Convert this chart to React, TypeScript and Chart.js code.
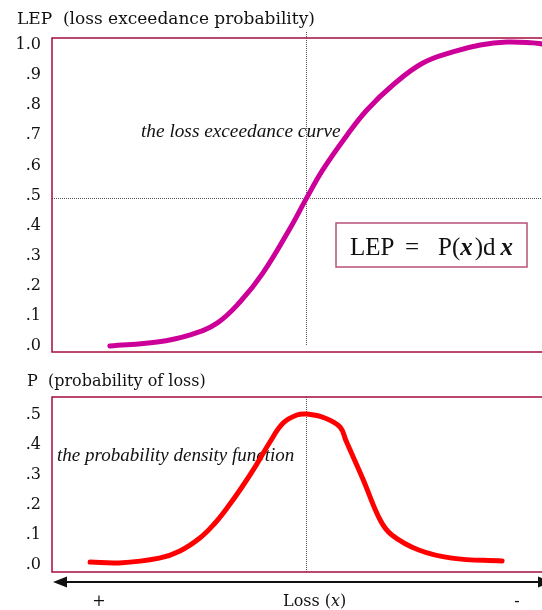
import React, { useEffect, useRef } from 'react';
import { Chart, registerables } from 'chart.js';

Chart.register(...registerables);

// ---------- data ----------
const LEP_X = [11.4, 20.7, 27.2, 32.5, 37.0, 41.5, 46.9, 50.0, 53.3, 58.1, 62.0, 67.1, 73.0, 78.9, 84.3, 89.6, 94.7, 96.5];
const LEP_Y = [0.010, 0.023, 0.047, 0.086, 0.156, 0.252, 0.402, 0.498, 0.595, 0.711, 0.794, 0.877, 0.950, 0.987, 1.010, 1.020, 1.017, 1.013];

const PDF_X = [7.5, 13.2, 21.1, 25.2, 29.1, 32.1, 34.6, 37.4, 40.2, 42.9, 45.5, 48.2, 50.2, 53.7, 56.7, 57.9, 61.2, 64.6, 66.9, 72.2, 78.7, 88.6];
const PDF_Y = [0.010, 0.007, 0.023, 0.047, 0.090, 0.140, 0.193, 0.260, 0.333, 0.410, 0.473, 0.500, 0.503, 0.490, 0.460, 0.413, 0.287, 0.150, 0.100, 0.050, 0.023, 0.013];

const LEP_TICKS = [0, 0.1, 0.2, 0.3, 0.4, 0.5, 0.6, 0.7, 0.8, 0.9, 1.0];
const PDF_TICKS = [0, 0.1, 0.2, 0.3, 0.4, 0.5];

const MEAN_X = 50;
const HALF_LEP = 0.5;

const LEP_TITLE = 'LEP  (loss exceedance probability)';
const PDF_TITLE = 'P  (probability of loss)';
const LEP_CURVE_LABEL = 'the loss exceedance curve';
const PDF_CURVE_LABEL = 'the probability density function';
const X_AXIS_LABEL = ['Loss (', 'x', ')'];
const X_LEFT_SIGN = '+';
const X_RIGHT_SIGN = '-';
const EQ_PARTS = ['LEP', '=', 'P(', 'x', ')d', 'x'];

// ---------- styles ----------
const SERIF = '"DejaVu Serif", serif';
const TIMES = '"Liberation Serif", "Times New Roman", serif';
const FRAME = '#a50d3c';
const TEXT = '#111111';

const fmt = (v: number) => (v >= 1 ? v.toFixed(1) : v.toFixed(1).replace(/^0/, ''));

function yScale(min: number, max: number, ticks: number[], labelOffset: number) {
  return {
    min,
    max,
    afterFit: (s: any) => {
      s.width = 52;
    },
    afterBuildTicks: (s: any) => {
      s.ticks = ticks.map((v) => ({ value: v }));
    },
    ticks: {
      callback: (v: any) => fmt(Number(v)),
      font: { family: SERIF, size: 16 },
      color: TEXT,
      padding: 11,
      labelOffset,
    },
    grid: { display: false, drawTicks: false },
    border: { display: false },
  };
}

function dotted(ctx: CanvasRenderingContext2D) {
  ctx.strokeStyle = '#555';
  ctx.lineWidth = 1;
  ctx.setLineDash([1, 1]);
}

function drawFrame(chart: any) {
  const { ctx, chartArea: a } = chart;
  ctx.save();
  ctx.strokeStyle = FRAME;
  ctx.lineWidth = 1.5;
  ctx.setLineDash([]);
  ctx.strokeRect(a.left, a.top, a.right - a.left, a.bottom - a.top);
  ctx.restore();
}

const topPlugin = {
  id: 'topDecor',
  beforeDatasetsDraw(chart: any) {
    const { ctx, chartArea: a, scales } = chart;
    const x = Math.round(scales.x.getPixelForValue(MEAN_X)) + 0.5;
    const y = Math.round(scales.y.getPixelForValue(HALF_LEP)) + 0.5;
    ctx.save();
    dotted(ctx);
    ctx.beginPath();
    ctx.moveTo(x, a.top - 6);
    ctx.lineTo(x, a.bottom - 6);
    ctx.moveTo(a.left, y);
    ctx.lineTo(a.right, y);
    ctx.stroke();
    ctx.setLineDash([]);
    ctx.fillStyle = TEXT;
    ctx.textBaseline = 'alphabetic';
    ctx.textAlign = 'left';
    ctx.font = `17px ${SERIF}`;
    ctx.fillText(LEP_TITLE, 17, 24);
    ctx.font = `italic 19.3px ${TIMES}`;
    ctx.fillText(LEP_CURVE_LABEL, 141, 137);
    ctx.restore();
  },
  afterDatasetsDraw(chart: any) {
    const { ctx } = chart;
    drawFrame(chart);
    // equation box
    const bx = 336, by = 223, bw = 191, bh = 44;
    ctx.save();
    ctx.fillStyle = '#ffffff';
    ctx.fillRect(bx, by, bw, bh);
    ctx.strokeStyle = '#b8507a';
    ctx.lineWidth = 1.5;
    ctx.strokeRect(bx, by, bw, bh);
    ctx.fillStyle = TEXT;
    ctx.textBaseline = 'alphabetic';
    ctx.textAlign = 'left';
    const roman = `25px ${TIMES}`;
    const ital = `italic bold 25px ${TIMES}`;
    const base = by + 32;
    ctx.font = roman;
    ctx.fillText(EQ_PARTS[0], bx + 14, base);
    ctx.fillText(EQ_PARTS[1], bx + 69, base);
    let cx = bx + 102;
    ctx.fillText(EQ_PARTS[2], cx, base);
    cx += ctx.measureText(EQ_PARTS[2]).width;
    ctx.font = ital;
    ctx.fillText(EQ_PARTS[3], cx, base);
    cx += ctx.measureText(EQ_PARTS[3]).width + 2;
    ctx.font = roman;
    ctx.fillText(EQ_PARTS[4], cx, base);
    cx += ctx.measureText(EQ_PARTS[4]).width + 5;
    ctx.font = ital;
    ctx.fillText(EQ_PARTS[5], cx, base);
    ctx.restore();
  },
};

const bottomPlugin = {
  id: 'bottomDecor',
  beforeDatasetsDraw(chart: any) {
    const { ctx, chartArea: a, scales } = chart;
    const x = Math.round(scales.x.getPixelForValue(MEAN_X)) + 0.5;
    ctx.save();
    dotted(ctx);
    ctx.beginPath();
    ctx.moveTo(x, a.top);
    ctx.lineTo(x, a.bottom);
    ctx.stroke();
    ctx.setLineDash([]);
    ctx.fillStyle = TEXT;
    ctx.textBaseline = 'alphabetic';
    ctx.textAlign = 'left';
    ctx.font = `16px ${SERIF}`;
    ctx.fillText(PDF_TITLE, 27, 26);
    ctx.font = `italic 19px ${TIMES}`;
    ctx.fillText(PDF_CURVE_LABEL, 57, 101);
    ctx.restore();
  },
  afterDatasetsDraw(chart: any) {
    const { ctx, chartArea: a } = chart;
    drawFrame(chart);
    const ay = a.bottom + 10;
    ctx.save();
    ctx.strokeStyle = TEXT;
    ctx.fillStyle = TEXT;
    ctx.lineWidth = 2;
    ctx.beginPath();
    ctx.moveTo(60, ay);
    ctx.lineTo(545, ay);
    ctx.stroke();
    ctx.beginPath();
    ctx.moveTo(53, ay);
    ctx.lineTo(67, ay - 5.5);
    ctx.lineTo(67, ay + 5.5);
    ctx.closePath();
    ctx.fill();
    ctx.beginPath();
    ctx.moveTo(552, ay);
    ctx.lineTo(538, ay - 5.5);
    ctx.lineTo(538, ay + 5.5);
    ctx.closePath();
    ctx.fill();
    const base = a.bottom + 34;
    ctx.font = `16px ${SERIF}`;
    ctx.textBaseline = 'alphabetic';
    ctx.textAlign = 'center';
    ctx.fillText(X_LEFT_SIGN, 99, base);
    ctx.fillText(X_RIGHT_SIGN, 517, base);
    ctx.textAlign = 'left';
    let cx = 283;
    ctx.fillText(X_AXIS_LABEL[0], cx, base);
    cx += ctx.measureText(X_AXIS_LABEL[0]).width;
    ctx.font = `italic 16px ${SERIF}`;
    ctx.fillText(X_AXIS_LABEL[1], cx, base);
    cx += ctx.measureText(X_AXIS_LABEL[1]).width;
    ctx.font = `16px ${SERIF}`;
    ctx.fillText(X_AXIS_LABEL[2], cx, base);
    ctx.restore();
  },
};

function lineDataset(xs: number[], ys: number[], color: string) {
  return {
    data: xs.map((x, i) => ({ x, y: ys[i] })),
    borderColor: color,
    backgroundColor: color,
    borderWidth: 5,
    pointRadius: 0,
    fill: false,
    tension: 0.4,
    borderCapStyle: 'round' as const,
    borderJoinStyle: 'round' as const,
    clip: false as any,
  };
}

function baseOptions(padding: any, y: any) {
  return {
    responsive: false,
    animation: false as const,
    devicePixelRatio: 1,
    events: [] as any[],
    layout: { padding },
    plugins: { legend: { display: false }, tooltip: { enabled: false }, title: { display: false } },
    scales: {
      x: { type: 'linear' as const, min: 0, max: 100, display: false },
      y,
    },
  };
}

export default function App() {
  const topRef = useRef<HTMLCanvasElement>(null);
  const botRef = useRef<HTMLCanvasElement>(null);

  useEffect(() => {
    const top = new Chart(topRef.current as HTMLCanvasElement, {
      type: 'line',
      data: { datasets: [lineDataset(LEP_X, LEP_Y, '#cc0099') as any] },
      options: baseOptions({ top: 38, bottom: 28, left: 0, right: 2 }, yScale(-0.00997, 1.0332, LEP_TICKS, -3)) as any,
      plugins: [topPlugin],
    });
    const bot = new Chart(botRef.current as HTMLCanvasElement, {
      type: 'line',
      data: { datasets: [lineDataset(PDF_X, PDF_Y, '#ff0000') as any] },
      options: baseOptions({ top: 37, bottom: 38, left: 0, right: 2 }, yScale(-0.0233, 0.56, PDF_TICKS, 0)) as any,
      plugins: [bottomPlugin],
    });
    return () => {
      top.destroy();
      bot.destroy();
    };
  }, []);

  return (
    <div style={{ position: 'absolute', left: 0, top: 0, width: 542, height: 610, overflow: 'hidden', background: '#ffffff' }}>
      <canvas ref={topRef} width={562} height={380} style={{ position: 'absolute', left: 0, top: 0 }} />
      <canvas ref={botRef} width={562} height={250} style={{ position: 'absolute', left: 0, top: 360 }} />
    </div>
  );
}
